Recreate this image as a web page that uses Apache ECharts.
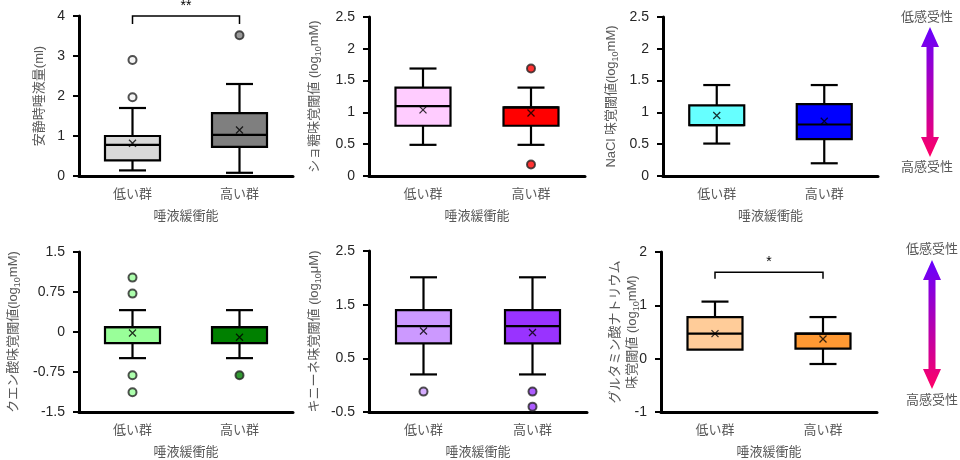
<!DOCTYPE html>
<html><head><meta charset="utf-8">
<script src="https://cdn.jsdelivr.net/npm/echarts@6/dist/echarts.min.js"></script>
<style>html,body{margin:0;padding:0;background:#fff}#c{width:960px;height:460px}</style>
</head><body><div id="c"></div>
<script>
// ---- data ----
const groups = ['低い群', '高い群'];
const xAxisTitle = '唾液緩衝能';
// box = [min, Q1, median, Q3, max]
const salivaBox = [[0.14, 0.39, 0.78, 1.0, 1.7], [0.08, 0.73, 1.03, 1.57, 2.3]];
const salivaMean = [0.82, 1.15];
const salivaOut = [[0, 2.9], [0, 1.97], [1, 3.52]];
const sucroseBox = [[0.49, 0.79, 1.1, 1.39, 1.69], [0.49, 0.79, 1.08, 1.08, 1.39]];
const sucroseMean = [1.04, 0.99];
const sucroseOut = [[1, 1.69], [1, 0.18]];
const naclBox = [[0.51, 0.8, 0.8, 1.11, 1.43], [0.2, 0.58, 0.81, 1.13, 1.43]];
const naclMean = [0.95, 0.86];
const naclOut = [];
const citricBox = [[-0.49, -0.21, 0.09, 0.09, 0.41], [-0.49, -0.21, 0.09, 0.09, 0.41]];
const citricMean = [-0.02, -0.1];
const citricOut = [[0, 1.02], [0, 0.72], [0, -0.81], [0, -1.13], [1, -0.81]];
const quinineBox = [[0.2, 0.78, 1.1, 1.4, 2.01], [0.2, 0.78, 1.1, 1.4, 2.01]];
const quinineMean = [1.01, 0.98];
const quinineOut = [[0, -0.12], [1, -0.12], [1, -0.4]];
const msgBox = [[0.17, 0.17, 0.47, 0.78, 1.07], [-0.1, 0.19, 0.47, 0.47, 0.78]];
const msgMean = [0.47, 0.37];
const msgOut = [];
const ticks1 = [0, 1, 2, 3, 4];
const ticks2 = [0, 0.5, 1, 1.5, 2, 2.5];
const ticks4 = [-1.5, -0.75, 0, 0.75, 1.5];
const ticks5 = [-0.5, 0.5, 1.5, 2.5];
const ticks6 = [-1, 0, 1, 2];
const sig1 = [[0, 1, 3.8, 4.0, '**']];
const sig6 = [[0, 1, 1.5, 1.62, '*']];

// ---- chart ----
const FONT = "'Liberation Sans', 'Noto Sans CJK JP', sans-serif";
const GREY = '#595959';
const panels = [
  {grid:{left:79, top:16, width:214, height:160}, ticks:ticks1, box:salivaBox, mean:salivaMean, out:salivaOut,
   colors:['#d9d9d9','#7f7f7f'], outColors:['#f2f2f2','#7f7f7f'], name:'安静時唾液量(ml)', gap:31, sig:sig1},
  {grid:{left:369, top:17, width:216, height:159}, ticks:ticks2, box:sucroseBox, mean:sucroseMean, out:sucroseOut,
   colors:['#ffccff','#ff0000'], outColors:['#ffccff','#ff0000'], name:'ショ糖味覚閾値 (log{s|10}mM)', gap:46},
  {grid:{left:663, top:17, width:215, height:159}, ticks:ticks2, box:naclBox, mean:naclMean, out:naclOut,
   colors:['#66ffff','#0000ff'], outColors:['#66ffff','#0000ff'], name:'NaCl 味覚閾値(log{s|10}mM)', gap:43},
  {grid:{left:79, top:252, width:214, height:160}, ticks:ticks4, box:citricBox, mean:citricMean, out:citricOut,
   colors:['#99ff99','#008000'], outColors:['#99ff99','#008000'], name:'クエン酸味覚閾値(log{s|10}mM)', gap:57},
  {grid:{left:369, top:251, width:218, height:161}, ticks:ticks5, box:quinineBox, mean:quinineMean, out:quinineOut,
   colors:['#cc99ff','#9933ff'], outColors:['#cc99ff','#9933ff'], name:'キニーネ味覚閾値 (log{s|10}μM)', gap:46},
  {grid:{left:661, top:252, width:216, height:160}, ticks:ticks6, box:msgBox, mean:msgMean, out:msgOut,
   colors:['#ffcc99','#ff9933'], outColors:['#ffcc99','#ff9933'], name:'グルタミン酸ナトリウム\n味覚閾値 (log{s|10}mM)', gap:20, noMove:true, sig:sig6}
];

const grids = [], xAxes = [], yAxes = [], series = [];
panels.forEach((p, k) => {
  grids.push(Object.assign({containLabel:false}, p.grid));
  const t = p.ticks;
  const step = t[1] - t[0];
  const fine = (t[0] % step === 0) ? step : step / 2;
  xAxes.push({
    type:'category', gridIndex:k, data:groups, boundaryGap:true,
    axisLine:{onZero:false, lineStyle:{color:'#000', width:3}}, axisTick:{show:false},
    axisLabel:{color:GREY, fontSize:13, fontFamily:FONT, margin:12},
    name:xAxisTitle, nameLocation:'middle', nameGap:34,
    nameTextStyle:{color:GREY, fontSize:13, fontFamily:FONT}
  });
  const y = {
    type:'value', gridIndex:k, min:t[0], max:t[t.length-1], interval:fine,
    axisLine:{show:true, onZero:false, lineStyle:{color:'#000', width:3}},
    axisTick:{show:true, length:6, lineStyle:{color:'#000', width:2}, customValues:t},
    axisLabel:{color:'#262626', fontSize:14, fontFamily:FONT, margin:14, customValues:t},
    splitLine:{show:false},
    name:p.name, nameLocation:'middle', nameRotate:90, nameGap:p.gap,
    nameTextStyle:{color:GREY, fontSize:13, fontFamily:FONT, lineHeight:17,
      rich:{s:{fontSize:9, fontFamily:FONT, color:GREY, verticalAlign:'bottom', lineHeight:15}}}
  };
  if (p.noMove) y.nameMoveOverlap = false;
  yAxes.push(y);
  const colors = p.colors;
  series.push({
    type:'custom', xAxisIndex:k, yAxisIndex:k, clip:false,
    data:p.box.map((b, i) => [i].concat(b)),
    encode:{x:0, y:[1,2,3,4,5]},
    renderItem:function(params, api){
      const i = api.value(0);
      const v = [1,2,3,4,5].map(j => api.value(j));
      const c = (val) => api.coord([i, val]);
      const cx = c(v[2])[0];
      const bw = 55, cw = 27;
      const yMin = c(v[0])[1], yQ1 = c(v[1])[1], yMed = c(v[2])[1], yQ3 = c(v[3])[1], yMax = c(v[4])[1];
      const ls = {stroke:'#000', lineWidth:2.2};
      const ch = [];
      if (Math.abs(yMax - yQ3) > 0.5) {
        ch.push({type:'line', shape:{x1:cx, y1:yQ3, x2:cx, y2:yMax}, style:ls});
        ch.push({type:'line', shape:{x1:cx-cw/2, y1:yMax, x2:cx+cw/2, y2:yMax}, style:ls});
      }
      if (Math.abs(yMin - yQ1) > 0.5) {
        ch.push({type:'line', shape:{x1:cx, y1:yQ1, x2:cx, y2:yMin}, style:ls});
        ch.push({type:'line', shape:{x1:cx-cw/2, y1:yMin, x2:cx+cw/2, y2:yMin}, style:ls});
      }
      ch.push({type:'rect', shape:{x:cx-bw/2, y:yQ3, width:bw, height:yQ1-yQ3},
               style:{fill:colors[i], stroke:'#000', lineWidth:2.2}});
      ch.push({type:'line', shape:{x1:cx-bw/2, y1:yMed, x2:cx+bw/2, y2:yMed}, style:ls});
      return {type:'group', children:ch};
    },
    z:2
  });
  series.push({
    type:'scatter', xAxisIndex:k, yAxisIndex:k,
    data:p.mean.map((m, i) => [i, m]),
    symbol:'path://M0,0L10,10M10,0L0,10', symbolSize:7,
    itemStyle:{color:'transparent', borderColor:'#000', borderWidth:1.3}, z:5, silent:true
  });
  series.push({
    type:'scatter', xAxisIndex:k, yAxisIndex:k,
    data:p.out.map(o => ({value:o, itemStyle:{color:p.outColors[o[0]]}})),
    symbol:'circle', symbolSize:8,
    itemStyle:{borderColor:'#262626', borderWidth:2}, z:5, silent:true
  });
  if (p.sig) {
    series.push({
      type:'custom', xAxisIndex:k, yAxisIndex:k, clip:false,
      data:p.sig,
      encode:{x:[0,1], y:[2,3]},
      renderItem:function(params, api){
        const a = api.coord([api.value(0), api.value(2)]);
        const at = api.coord([api.value(0), api.value(3)]);
        const b = api.coord([api.value(1), api.value(2)]);
        const bt = api.coord([api.value(1), api.value(3)]);
        const label = p.sig[params.dataIndex][4];
        return {type:'group', children:[
          {type:'polyline', shape:{points:[a, at, bt, b]}, style:{stroke:'#000', lineWidth:1.5, fill:null}},
          {type:'text', style:{text:label, x:(at[0]+bt[0])/2, y:at[1]-3, align:'center', verticalAlign:'bottom',
            fontSize:14, fontFamily:FONT, fill:'#000'}}
        ]};
      }
    });
  }
});

function arrow(cx, top, bottom) {
  const sw = 3.5, hw = 9, hh = 20;
  return {
    type:'polygon',
    shape:{points:[[cx, top], [cx+hw, top+hh], [cx+sw, top+hh], [cx+sw, bottom-hh], [cx+hw, bottom-hh],
                   [cx, bottom], [cx-hw, bottom-hh], [cx-sw, bottom-hh], [cx-sw, top+hh], [cx-hw, top+hh]]},
    style:{fill:new echarts.graphic.LinearGradient(0, 0, 0, 1, [{offset:0, color:'#6600ff'}, {offset:1, color:'#ff0066'}])}
  };
}
function label(txt, x, y) {
  return {type:'text', x:x, y:y, style:{text:txt, align:'center', verticalAlign:'middle', fontSize:13, fontFamily:FONT, fill:GREY}};
}

const chart = echarts.init(document.getElementById('c'), null, {renderer:'canvas'});
chart.setOption({
  animation:false,
  backgroundColor:'#fff',
  grid:grids, xAxis:xAxes, yAxis:yAxes, series:series,
  graphic:[
    arrow(930, 27, 157), label('低感受性', 927, 17), label('高感受性', 927, 167),
    arrow(932, 260, 389), label('低感受性', 932, 249), label('高感受性', 932, 400)
  ]
});
</script></body></html>
